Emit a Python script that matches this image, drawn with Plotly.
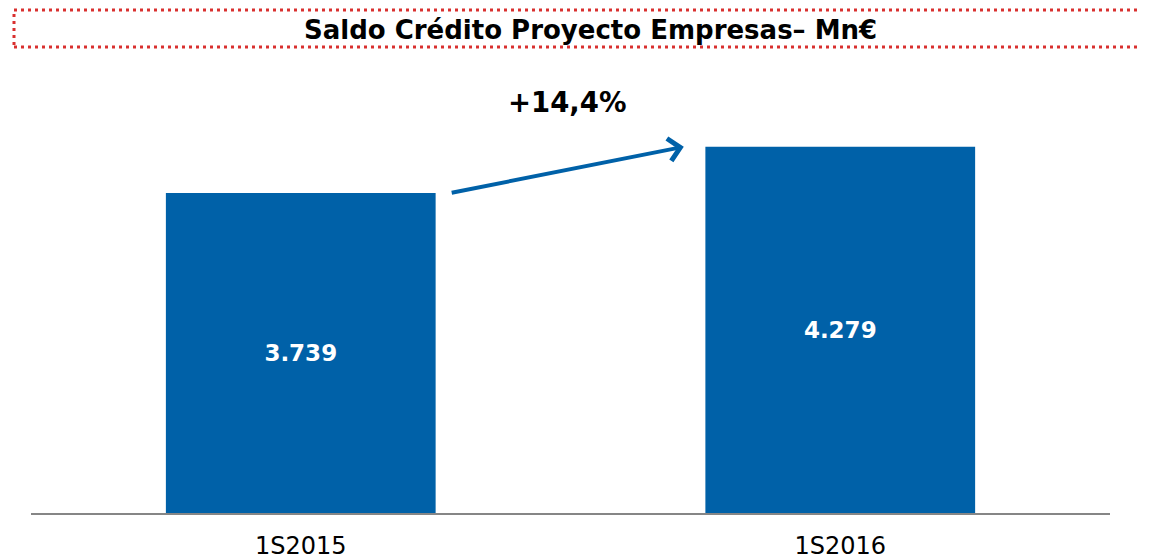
import plotly.graph_objects as go

categories = ["1S2015", "1S2016"]
values = [3739, 4279]
value_labels = ["3.739", "4.279"]
title_text = "Saldo Crédito Proyecto Empresas– Mn€"

growth = (values[1] / values[0] - 1) * 100
growth_label = "+" + f"{growth:.1f}".replace(".", ",") + "%"

BLUE = "#0061A8"
FONT = "DejaVu Sans"

OFF = 8  # page body margin offset
W, H = 1149, 558
L, R, T, B = 31 - OFF, 39 + OFF, 60 - OFF, 45 + OFF
PW, PH = W - L - R, H - T - B


def px(x):
    return (x - OFF - L) / PW


def py(y):
    return (H - B - (y - OFF)) / PH


fig = go.Figure()
fig.add_trace(go.Bar(
    x=categories, y=values, text=value_labels,
    textposition="inside", insidetextanchor="middle",
    textfont=dict(family=FONT, size=23, color="white", weight="bold"),
    marker=dict(color=BLUE, line=dict(width=0)),
    width=0.5, hoverinfo="skip",
))

# arrow between bars
fig.add_annotation(
    x=0.71, y=values[1], ax=0.277, ay=values[0],
    xref="x", yref="y", axref="x", ayref="y",
    showarrow=True, arrowhead=4, arrowsize=1.1, arrowwidth=4,
    arrowcolor=BLUE, text="", standoff=0,
)
fig.add_annotation(
    x=px(567), y=py(102), xref="paper", yref="paper", text=growth_label,
    xanchor="center", yanchor="middle",
    showarrow=False, font=dict(family=FONT, size=27.5, color="black", weight="bold"),
)

# title box
fig.add_shape(type="rect", xref="paper", yref="paper",
              x0=px(14), x1=px(1145), y0=py(47), y1=py(10),
              line=dict(color="#D9302F", width=3, dash="3px,4px"),
              fillcolor="white", layer="below")
fig.add_annotation(
    x=px(590), y=py(30), xref="paper", yref="paper", text=title_text,
    xanchor="center", yanchor="middle",
    showarrow=False, font=dict(family=FONT, size=26, color="black", weight="bold"),
)

fig.update_layout(
    width=W, height=H,
    margin=dict(l=L, r=R, t=T, b=B, autoexpand=False),
    paper_bgcolor="white", plot_bgcolor="white",
    showlegend=False,
    xaxis=dict(showline=True, linecolor="#868686", linewidth=2,
               ticks="", ticklabelstandoff=10,
               tickfont=dict(family=FONT, size=24, color="black"),
               showgrid=False, zeroline=False),
    yaxis=dict(range=[0, 5293], visible=False, showgrid=False, zeroline=False),
)
fig.write_html("out.html")
